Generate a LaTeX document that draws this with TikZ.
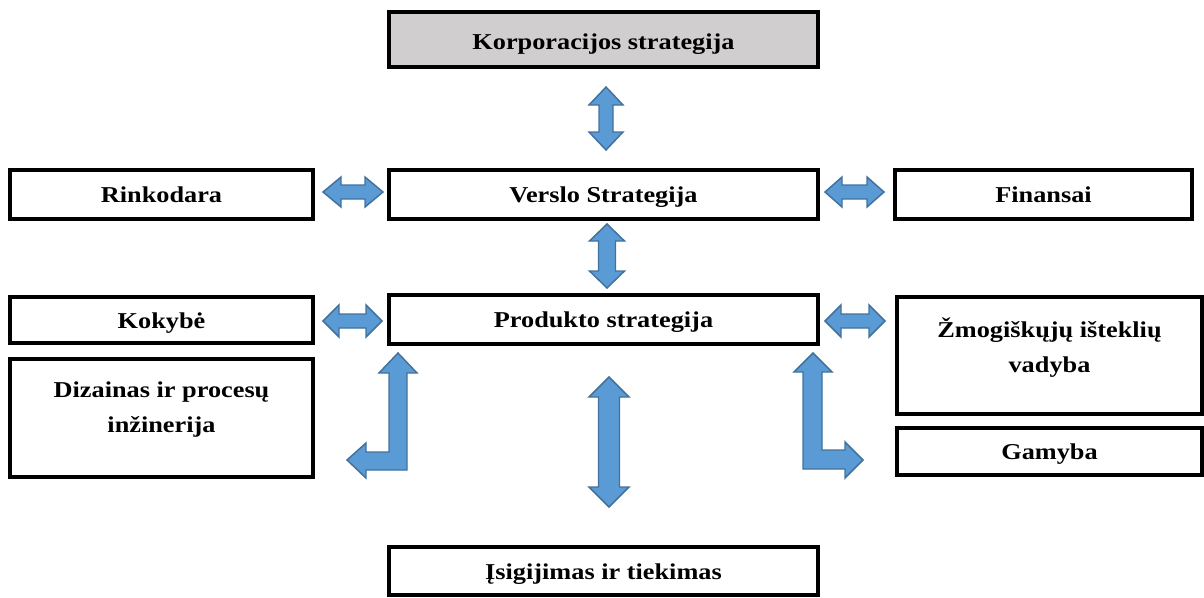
\documentclass[tikz,border=0pt]{standalone}
\usepackage{fontspec}
\setmainfont{Liberation Serif}
\definecolor{boxgray}{RGB}{208,206,206}
\definecolor{arrowfill}{RGB}{91,155,213}
\definecolor{arrowline}{RGB}{65,113,156}
% horizontally widened bold label text
\newcommand\widetext[1]{\scalebox{1.16}[1]{#1}}
% vertical block double arrow: cx, ytop, ybottom, half head, half shaft, head length
\newcommand\vblockarrow[6]{%
  \filldraw[blockarrow] ({#1},{#2}) -- ({#1+#4},{#2+#6}) -- ({#1+#5},{#2+#6})
    -- ({#1+#5},{#3-#6}) -- ({#1+#4},{#3-#6}) -- ({#1},{#3}) -- ({#1-#4},{#3-#6})
    -- ({#1-#5},{#3-#6}) -- ({#1-#5},{#2+#6}) -- ({#1-#4},{#2+#6}) -- cycle;}
% horizontal block double arrow: cy, xleft, xright, half head, half shaft, head length
\newcommand\hblockarrow[6]{%
  \filldraw[blockarrow] ({#2},{#1}) -- ({#2+#6},{#1-#4}) -- ({#2+#6},{#1-#5})
    -- ({#3-#6},{#1-#5}) -- ({#3-#6},{#1-#4}) -- ({#3},{#1}) -- ({#3-#6},{#1+#4})
    -- ({#3-#6},{#1+#5}) -- ({#2+#6},{#1+#5}) -- ({#2+#6},{#1+#4}) -- cycle;}
\begin{document}
\begin{tikzpicture}[x=0.75pt,y=-0.75pt,
  box/.style 2 args={draw=black, line width=2.3pt, fill=white, align=center,
    minimum width=#1*0.75pt, minimum height=#2*0.75pt, inner sep=0pt,
    text height=16pt, text depth=3.7pt,
    font=\fontsize{17}{26}\selectfont\bfseries},
  tallbox/.style={text height=, text depth=16pt},
  blockarrow/.style={fill=arrowfill, draw=arrowline, line width=1.1pt, line join=miter}]
\useasboundingbox (0,0) rectangle (1204,597);

% strategy boxes
\node[box={429}{55}, fill=boxgray, text height=19pt] (corp) at (603.5,39.5) {\widetext{Korporacijos strategija}};
\node[box={429}{49}] (verslo) at (603.5,194.5) {\widetext{Verslo Strategija}};
\node[box={303}{49}] (rink) at (161.5,194.5) {\widetext{Rinkodara}};
\node[box={297}{49}] (fin) at (1043.5,194.5) {\widetext{Finansai}};
\node[box={303}{46}] (kok) at (161.5,320) {\widetext{Kokybė}};
\node[box={429}{49}] (prod) at (603.5,319.5) {\widetext{Produkto strategija}};
\node[box={305}{117}, tallbox] (zmog) at (1049.5,355.5)
  {\widetext{Žmogiškųjų išteklių}\\\widetext{vadyba}};
\node[box={303}{118}, tallbox] (diz) at (161.5,418)
  {\widetext{Dizainas ir procesų}\\\widetext{inžinerija}};
\node[box={305}{47}] (gam) at (1049.5,451.5) {\widetext{Gamyba}};
\node[box={429}{48}] (isig) at (603.5,571) {\widetext{Įsigijimas ir tiekimas}};

% straight double arrows
\vblockarrow{606}{87}{150}{17}{7}{18}
\vblockarrow{607}{224}{288}{17.5}{8.5}{17}
\vblockarrow{609}{377}{507}{20}{10.5}{20}
\hblockarrow{192}{323}{383}{15}{7}{18}
\hblockarrow{192}{825}{884}{15}{7}{17}
\hblockarrow{321}{323}{382}{16}{7}{16}
\hblockarrow{321}{825}{885}{16}{7}{16}

% bent arrows
\filldraw[blockarrow] (398,353) -- (417,373) -- (407,373) -- (407,470) -- (366,470)
  -- (366,478) -- (347,460) -- (366,443) -- (366,452) -- (389,452) -- (389,373)
  -- (379,373) -- cycle;
\filldraw[blockarrow] (813,353) -- (832,372) -- (822,372) -- (822,450) -- (845,450)
  -- (845,442) -- (863,460) -- (845,478) -- (845,469) -- (803,469) -- (803,372)
  -- (794,372) -- cycle;
\end{tikzpicture}
\end{document}
